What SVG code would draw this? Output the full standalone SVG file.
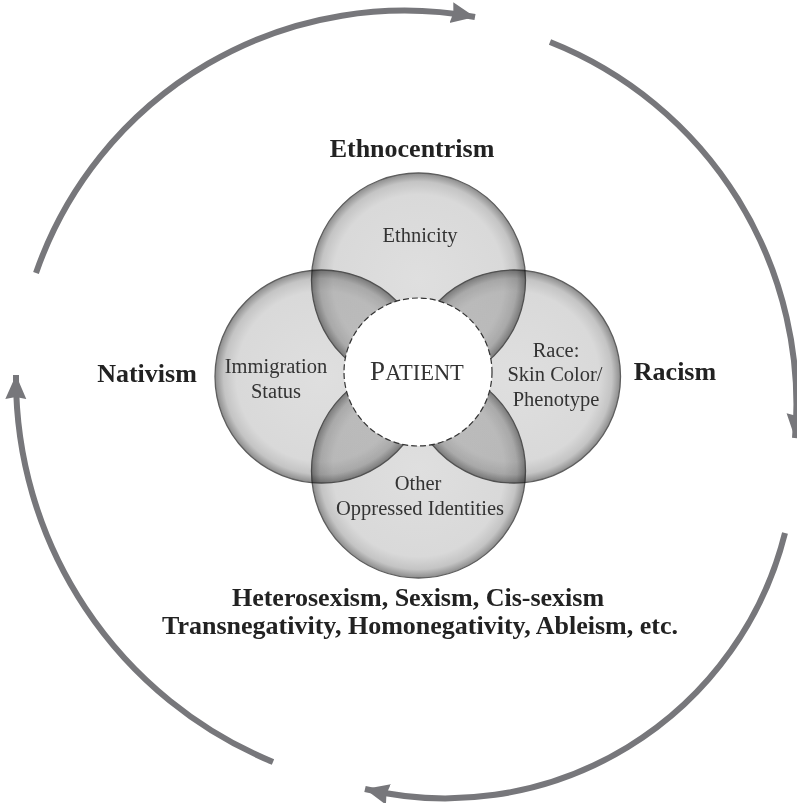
<svg xmlns="http://www.w3.org/2000/svg" width="797" height="803" viewBox="0 0 797 803">
<style>
.arc{fill:none;stroke:#77777b;stroke-width:6;marker-end:url(#ah)}
.petal{fill:url(#pg);stroke:#5e5e5e;stroke-width:1.3;mix-blend-mode:multiply}
.bold{font-family:"Liberation Serif","Times New Roman",serif;font-weight:bold;font-size:26px;fill:#222;text-anchor:middle}
.lab{font-family:"Liberation Serif","Times New Roman",serif;font-size:20.5px;fill:#333;text-anchor:middle}
</style>
<defs>
<marker id="ah" markerUnits="userSpaceOnUse" markerWidth="26" markerHeight="24" viewBox="0 0 26 24" refX="24" refY="12" orient="auto">
<path d="M0,1.5 L24,12 L0,22.5 L2,12 z" fill="#77777b"/>
</marker>
<radialGradient id="pg" cx="0.5" cy="0.5" r="0.5">
<stop offset="0" stop-color="#dfdfdf"/>
<stop offset="0.8" stop-color="#d9d9d9"/>
<stop offset="0.92" stop-color="#c4c4c4"/>
<stop offset="1" stop-color="#8c8c8c"/>
</radialGradient>
</defs>
<rect width="797" height="803" fill="#fff"/>
<g id="connectors">
<path class="arc" d="M36,273 A390,390 0 0 1 475,17"/>
<path class="arc" d="M550,42 A390,390 0 0 1 795,438"/>
<path class="arc" d="M785,533 A350,350 0 0 1 365,789"/>
<path class="arc" d="M273,762 A415,415 0 0 1 16,375"/>
</g>
<g id="petals">
<g id="node-ethnicity"><circle class="petal" cx="418.5" cy="280" r="107"/></g>
<g id="node-immigration"><circle class="petal" cx="321.5" cy="376.5" r="106.5"/></g>
<g id="node-race"><circle class="petal" cx="514" cy="376.5" r="106.5"/></g>
<g id="node-other"><circle class="petal" cx="418.5" cy="471" r="107"/></g>
</g>
<g id="node-patient">
<circle cx="418" cy="372" r="74" fill="#fff" stroke="#333" stroke-width="1.2" stroke-dasharray="6,3"/>
<text x="417" y="380" font-family="'Liberation Serif','Times New Roman',serif" fill="#333" text-anchor="middle"><tspan font-size="27">P</tspan><tspan font-size="22.5">ATIENT</tspan></text>
</g>
<g id="labels-petals">
<text class="lab" x="420" y="242">Ethnicity</text>
<text class="lab" x="276" y="373">Immigration</text>
<text class="lab" x="276" y="398">Status</text>
<text class="lab" x="556" y="357">Race:</text>
<text class="lab" x="555" y="381">Skin Color/</text>
<text class="lab" x="556" y="406">Phenotype</text>
<text class="lab" x="418" y="490">Other</text>
<text class="lab" x="420" y="515">Oppressed Identities</text>
</g>
<g id="labels-isms">
<text class="bold" x="412" y="157">Ethnocentrism</text>
<text class="bold" x="147" y="382">Nativism</text>
<text class="bold" x="675" y="380">Racism</text>
<text class="bold" x="418" y="606">Heterosexism, Sexism, Cis-sexism</text>
<text class="bold" x="420" y="634">Transnegativity, Homonegativity, Ableism, etc.</text>
</g>
</svg>
